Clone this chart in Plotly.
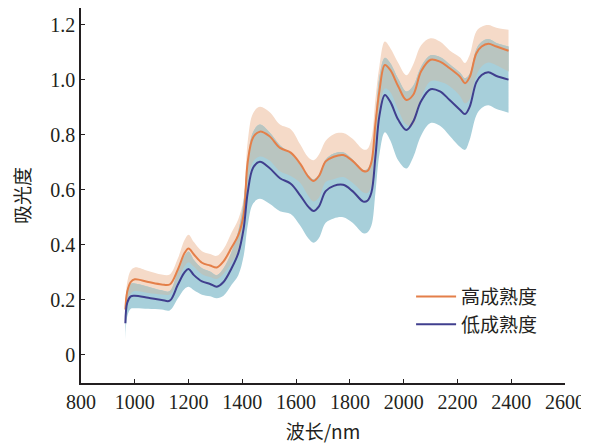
import plotly.graph_objects as go
import numpy as np

wavelength = [965, 972, 985, 1000, 1050, 1100, 1130, 1160, 1185, 1200, 1220, 1250, 1280, 1305,
              1330, 1360, 1385, 1405, 1420, 1440, 1465, 1500, 1540, 1580, 1615, 1645, 1665, 1685,
              1710, 1740, 1775, 1810, 1850, 1865, 1880, 1895, 1910, 1930, 1950, 1980, 2010, 2035,
              2065, 2100, 2135, 2170, 2210, 2228, 2245, 2270, 2290, 2315, 2345, 2390]

high_mean = [0.165, 0.23, 0.265, 0.275, 0.265, 0.256, 0.256, 0.31, 0.37, 0.387, 0.365, 0.335, 0.325, 0.318,
             0.34, 0.39, 0.435, 0.51, 0.70, 0.79, 0.811, 0.795, 0.752, 0.735, 0.695, 0.648, 0.632, 0.65,
             0.703, 0.72, 0.726, 0.705, 0.668, 0.668, 0.70, 0.84, 0.96, 1.053, 1.035, 0.975, 0.926, 0.944,
             1.03, 1.072, 1.065, 1.042, 1.01, 0.987, 1.008, 1.095, 1.12, 1.13, 1.12, 1.105]

high_sd = [0.02, 0.035, 0.042, 0.043, 0.04, 0.036, 0.036, 0.04, 0.048, 0.05, 0.045, 0.042, 0.042, 0.042,
           0.045, 0.055, 0.058, 0.06, 0.075, 0.088, 0.09, 0.088, 0.085, 0.085, 0.07, 0.07, 0.075, 0.078,
           0.075, 0.082, 0.08, 0.08, 0.078, 0.08, 0.085, 0.09, 0.09, 0.085, 0.08, 0.085, 0.09, 0.11,
           0.095, 0.078, 0.073, 0.065, 0.07, 0.073, 0.08, 0.08, 0.072, 0.068, 0.068, 0.076]

low_mean = [0.115, 0.19, 0.213, 0.215, 0.208, 0.2, 0.197, 0.255, 0.3, 0.312, 0.29, 0.267, 0.258, 0.248,
            0.265, 0.315, 0.37, 0.46, 0.59, 0.68, 0.702, 0.68, 0.642, 0.622, 0.58, 0.539, 0.523, 0.54,
            0.595, 0.614, 0.618, 0.595, 0.557, 0.56, 0.59, 0.72, 0.87, 0.944, 0.92, 0.854, 0.817, 0.847,
            0.922, 0.965, 0.957, 0.927, 0.89, 0.875, 0.9, 0.99, 1.017, 1.027, 1.013, 1.0]

low_sd = [0.06, 0.05, 0.045, 0.045, 0.04, 0.035, 0.035, 0.05, 0.06, 0.064, 0.055, 0.048, 0.045, 0.042,
          0.05, 0.06, 0.08, 0.1, 0.12, 0.13, 0.135, 0.13, 0.12, 0.11, 0.11, 0.115, 0.115, 0.115,
          0.115, 0.118, 0.118, 0.115, 0.115, 0.115, 0.12, 0.13, 0.14, 0.135, 0.14, 0.148, 0.14, 0.13,
          0.125, 0.123, 0.125, 0.13, 0.135, 0.13, 0.12, 0.12, 0.12, 0.12, 0.12, 0.12]

x_ticks = [800, 1000, 1200, 1400, 1600, 1800, 2000, 2200, 2400, 2600]
y_ticks = [0, 0.2, 0.4, 0.6, 0.8, 1.0, 1.2]
y_ticktext = ["0", "0.2", "0.4", "0.6", "0.8", "1.0", "1.2"]
series_names = ["高成熟度", "低成熟度"]

hm, hs = np.array(high_mean), np.array(high_sd)
lm, ls = np.array(low_mean), np.array(low_sd)
h_up, h_lo = hm + hs, hm - hs
l_up, l_lo = lm + ls, lm - ls
ov_up = np.minimum(h_up, l_up)
ov_lo = np.maximum(h_lo, l_lo)

PEACH = "#f5dac8"
BLUE = "#a7cfda"
GRAY = "#b9c5c0"
ORANGE = "#e47f49"
NAVY = "#403f8e"

fig = go.Figure()

def band(lo, up, color):
    fig.add_trace(go.Scatter(x=wavelength, y=lo, mode="lines", line=dict(width=0, shape="spline"),
                             showlegend=False, hoverinfo="skip"))
    fig.add_trace(go.Scatter(x=wavelength, y=up, mode="lines", line=dict(width=0, shape="spline"),
                             fill="tonexty", fillcolor=color, showlegend=False, hoverinfo="skip"))

band(h_lo, h_up, PEACH)
band(l_lo, l_up, BLUE)
band(ov_lo, ov_up, GRAY)

fig.add_trace(go.Scatter(x=wavelength, y=high_mean, mode="lines", name=series_names[0],
                         line=dict(color=ORANGE, width=2, shape="spline")))
fig.add_trace(go.Scatter(x=wavelength, y=low_mean, mode="lines", name=series_names[1],
                         line=dict(color=NAVY, width=2, shape="spline")))

SERIF = "Liberation Serif, Times New Roman, serif"
CJK = "Noto Sans CJK SC"

axis_common = dict(showgrid=False, zeroline=False, showline=True, linecolor="#231f20", linewidth=1.5,
                   ticks="inside", ticklen=4, tickwidth=1.2, tickcolor="#231f20", automargin=False,
                   tickfont=dict(family=SERIF, size=20, color="#231f20"))

fig.update_xaxes(range=[800, 2600], tickvals=x_ticks, ticktext=[str(v) for v in x_ticks],
                 title=dict(text="波长/nm", font=dict(family=CJK, size=19, color="#231f20"),
                            standoff=14),
                 **axis_common)
fig.update_yaxes(range=[-0.1017, 1.26], tickvals=y_ticks, ticktext=y_ticktext,
                 title=dict(text="吸光度", font=dict(family=CJK, size=19, color="#231f20"),
                            standoff=26),
                 **axis_common)

fig.update_layout(
    width=581, height=437,
    margin=dict(l=73, r=24, t=0, b=62),
    paper_bgcolor="white", plot_bgcolor="white",
    legend=dict(x=0.682, y=0.281, xanchor="left", yanchor="top", bgcolor="rgba(0,0,0,0)",
                font=dict(family=CJK, size=19, color="#231f20"),
                tracegroupgap=0, itemwidth=40, traceorder="normal"),
    showlegend=True,
)

fig.write_html("out.html")
